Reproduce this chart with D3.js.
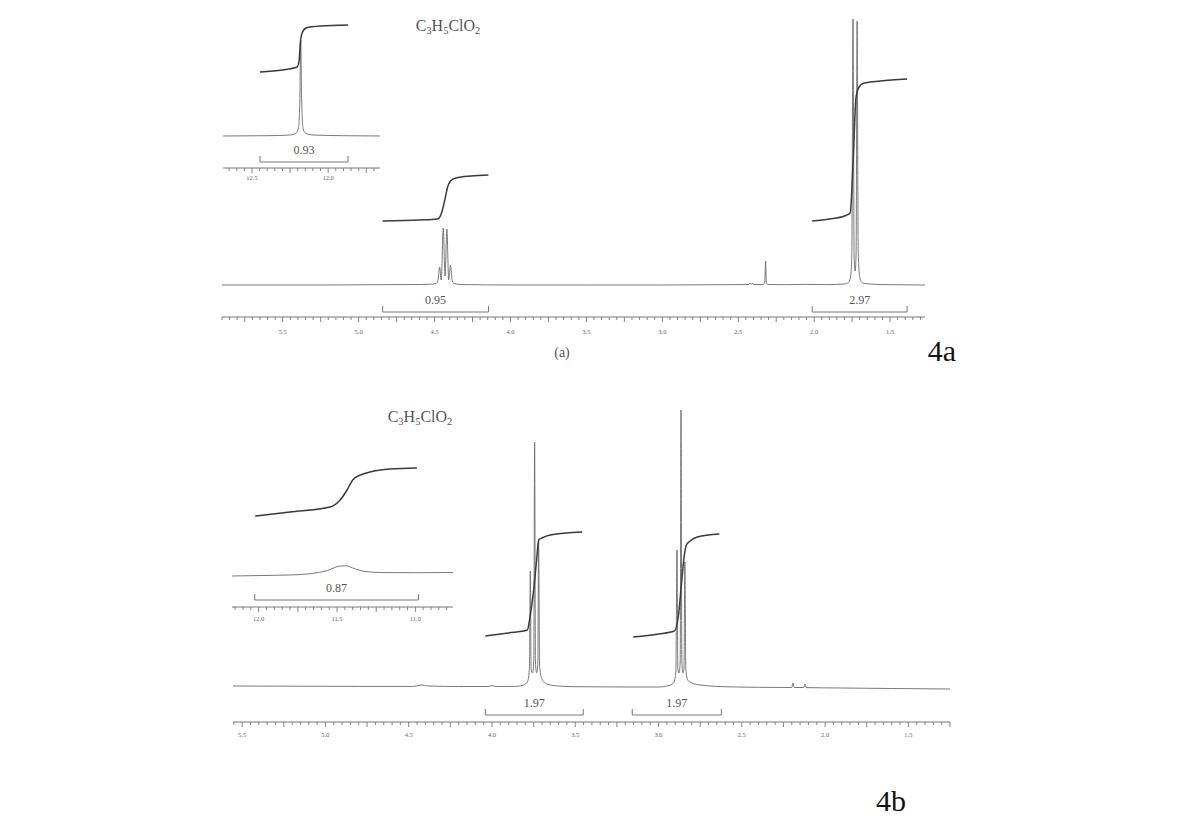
<!DOCTYPE html>
<html><head><meta charset="utf-8">
<script src="https://cdn.jsdelivr.net/npm/d3@7"></script>
<style>
body{margin:0;background:#fff;}
svg{display:block;}
text{font-family:"Liberation Serif","DejaVu Serif",serif;fill:#444;}
</style></head><body>
<svg id="c" width="1179" height="824"></svg>
<script>
// ===== DATA (ppm, intensity) =====
// Spectrum (a): main trace
const aMainTrace = [
 [5.90,0],[5.2,0],[4.9,0.3],[4.60,0.5],[4.52,0.8],[4.49,1.5],[4.478,4],[4.467,18],[4.456,5],[4.443,57],[4.431,9],
 [4.419,56],[4.407,5],[4.395,20],[4.384,4],[4.37,1.5],[4.33,0.5],[4.0,0],[3.5,0],[3.0,0],[2.6,0.3],
 [2.43,0.5],[2.423,2],[2.416,0.5],[2.405,2],[2.398,0.5],[2.335,0.5],[2.325,3],[2.320,24],[2.315,3],[2.305,0.5],
 [2.2,0.3],[2.05,0.6],[1.92,0.4],[1.80,1],[1.775,2.5],[1.762,7],[1.752,30],[1.744,266],[1.737,30],[1.730,14],
 [1.724,30],[1.717,264],[1.710,35],[1.700,8],[1.688,3],[1.67,1.5],[1.62,1],[1.58,0.5],[1.50,0.3],[1.27,0]
];
// Spectrum (a): integral curves
const aIntegralCH = [[4.842,64],[4.60,65],[4.48,66],[4.454,72],[4.434,84],[4.414,98],[4.395,104],[4.36,107],[4.26,109],[4.145,110]];
const aIntegralCH3 = [[2.013,64],[1.90,66],[1.80,69],[1.763,72],[1.743,125],[1.724,188],[1.704,198],[1.671,202],[1.566,204],[1.388,206]];
// Spectrum (a): inset (COOH)
const aInsetTrace = [[12.69,0],[12.40,0.3],[12.25,1],[12.21,3],[12.195,8],[12.186,35],[12.180,96],[12.174,35],[12.165,8],[12.15,3],[12.10,1],[11.90,0.3],[11.66,0]];
const aInsetIntegral = [[12.447,64],[12.30,66],[12.204,69],[12.19,76],[12.184,91],[12.171,103],[12.145,108],[12.05,110],[11.87,111]];
// Spectrum (a): integration brackets [from ppm, to ppm, label]
const aBrackets = [[4.842,4.145,"0.95"],[2.013,1.388,"2.97"]];
const aInsetBrackets = [[12.447,11.87,"0.93"]];
const aTickLabels = ["5.5","5.0","4.5","4.0","3.5","3.0","2.5","2.0","1.5"];
const aInsetTickLabels = ["12.5","12.0"];

// Spectrum (b): main trace
const bMainTrace = [
 [5.555,1],[5.2,0.8],[4.8,0.6],[4.47,0.6],[4.42,2],[4.38,1],[4.2,0.5],[4.02,0.5],[4.00,1.5],[3.98,0.5],
 [3.86,0.6],[3.81,2],[3.785,6],[3.775,20],[3.770,116],[3.765,18],[3.757,14],[3.749,25],[3.744,245],[3.739,25],
 [3.732,14],[3.725,22],[3.720,147],[3.714,20],[3.70,8],[3.68,4],[3.65,2],[3.60,1],[3.5,0.3],[3.2,0],[3.0,0],
 [2.95,1],[2.91,4],[2.896,15],[2.889,137],[2.884,18],[2.877,14],[2.870,25],[2.865,277],[2.860,25],[2.853,14],
 [2.847,20],[2.842,125],[2.836,18],[2.825,7],[2.80,4],[2.77,2.5],[2.72,1.5],[2.65,0.5],[2.4,-0.3],[2.20,-0.5],
 [2.193,4],[2.186,-0.5],[2.128,-0.5],[2.121,3],[2.114,-0.6],[1.9,-1],[1.6,-1.5],[1.25,-2]
];
const bIntegralCH2a = [[4.04,51],[3.90,54],[3.788,57],[3.770,72],[3.750,97],[3.732,127],[3.720,147],[3.70,149],[3.65,152],[3.458,155]];
const bIntegralCH2b = [[3.152,50],[3.00,53],[2.905,56],[2.880,72],[2.863,102],[2.845,132],[2.833,142],[2.81,146],[2.767,150],[2.635,153]];
const bInsetTrace = [[12.17,0],[11.90,0.7],[11.75,1.3],[11.66,2.5],[11.56,5.5],[11.48,10],[11.44,10.2],[11.40,8],[11.32,4.5],[11.20,3.4],[11.00,3.3],[10.76,3.5]];
const bInsetIntegral = [[12.022,60],[11.80,64],[11.545,69],[11.48,76],[11.436,86],[11.40,96],[11.35,101],[11.29,104],[11.16,107],[10.99,108]];
const bBrackets = [[4.04,3.452,"1.97"],[3.158,2.623,"1.97"]];
const bInsetBrackets = [[12.025,10.98,"0.87"]];
const bTickLabels = ["5.5","5.0","4.5","4.0","3.5","3.0","2.5","2.0","1.5"];
const bInsetTickLabels = ["12.0","11.5","11.0"];

const formulaParts = [["C",""],["3","sub"],["H",""],["5","sub"],["ClO",""],["2","sub"]];

// ===== DRAWING =====
const svg = d3.select("#c");
const specColor = "#6a6a6a", intColor = "#3a3a3a", axisColor = "#777";

function panel(cfg){
  const x = d3.scaleLinear().domain(cfg.xDomain).range(cfg.xRange);
  const y = d3.scaleLinear().domain([0,100]).range([cfg.baseY, cfg.baseY-100]);
  const g = svg.append("g");
  const line = d3.line().x(d=>x(d[0])).y(d=>y(d[1])).curve(d3.curveMonotoneX);
  g.append("path").datum(cfg.trace).attr("d",line).attr("fill","none")
    .attr("stroke",specColor).attr("stroke-width",0.9);
  cfg.integrals.forEach(arr=>{
    g.append("path").datum(arr).attr("d",line).attr("fill","none")
      .attr("stroke",intColor).attr("stroke-width",1.5);
  });
  cfg.brackets.forEach(b=>{
    const x0=x(b[0]), x1=x(b[1]), yb=cfg.bracketY;
    g.append("path").attr("d",`M${x0},${yb-6}V${yb}H${x1}V${yb-6}`)
      .attr("fill","none").attr("stroke","#777").attr("stroke-width",1);
    g.append("text").attr("x",(x0+x1)/2).attr("y",yb-8).attr("text-anchor","middle")
      .attr("font-size",12).style("fill","#555").text(b[2]);
  });
  // axis
  const ay = cfg.axisY;
  g.append("line").attr("x1",cfg.xRange[0]).attr("x2",cfg.xRange[1]).attr("y1",ay).attr("y2",ay)
    .attr("stroke",axisColor).attr("stroke-width",1);
  const lo = Math.min(...cfg.xDomain), hi = Math.max(...cfg.xDomain);
  const minor = d3.range(Math.ceil(lo/0.05)*0.05, hi+1e-9, 0.05).map(v=>+v.toFixed(2));
  g.selectAll(null).data(minor).enter().append("line")
    .attr("x1",d=>x(d)).attr("x2",d=>x(d)).attr("y1",ay)
    .attr("y2",d=>{const r=Math.round(d*100); return ay + (r%25===0?5:3);})
    .attr("stroke",axisColor).attr("stroke-width",0.9);
  g.selectAll(null).data(cfg.tickLabels).enter().append("text")
    .attr("x",d=>x(+d)).attr("y",ay+cfg.labelDy).attr("text-anchor","middle")
    .attr("font-size",6.5).style("fill","#666").text(d=>d);
  return g;
}

// Spectrum (a)
panel({xDomain:[5.9,1.27], xRange:[222,925], baseY:285, trace:aMainTrace,
  integrals:[aIntegralCH,aIntegralCH3], brackets:aBrackets, bracketY:312, axisY:317, labelDy:17,
  tickLabels:aTickLabels});
panel({xDomain:[12.69,11.66], xRange:[223,380], baseY:136, trace:aInsetTrace,
  integrals:[aInsetIntegral], brackets:aInsetBrackets, bracketY:162, axisY:168, labelDy:12,
  tickLabels:aInsetTickLabels});
// Spectrum (b)
panel({xDomain:[5.555,1.25], xRange:[233,950], baseY:687, trace:bMainTrace,
  integrals:[bIntegralCH2a,bIntegralCH2b], brackets:bBrackets, bracketY:715, axisY:722, labelDy:15,
  tickLabels:bTickLabels});
panel({xDomain:[12.17,10.76], xRange:[232,453], baseY:576, trace:bInsetTrace,
  integrals:[bInsetIntegral], brackets:bInsetBrackets, bracketY:600, axisY:607, labelDy:14,
  tickLabels:bInsetTickLabels});

function formula(cx, by){
  const t = svg.append("text").attr("x",cx).attr("y",by).attr("text-anchor","middle").attr("font-size",16).style("fill","#555");
  formulaParts.forEach((p,i)=>{
    const s = t.append("tspan").text(p[0]);
    if(p[1]==="sub") s.attr("font-size",10.5).attr("dy",3);
    else s.attr("dy", i>0 ? -3 : 0);
  });
}
formula(448,31);
formula(420,422);

svg.append("text").attr("x",562).attr("y",357).attr("text-anchor","middle").attr("font-size",14).style("fill","#555").text("(a)");
svg.append("text").attr("x",942).attr("y",361).attr("text-anchor","middle").attr("font-size",30).style("fill","#111").text("4a");
svg.append("text").attr("x",891).attr("y",811).attr("text-anchor","middle").attr("font-size",30).style("fill","#111").text("4b");
</script></body></html>
